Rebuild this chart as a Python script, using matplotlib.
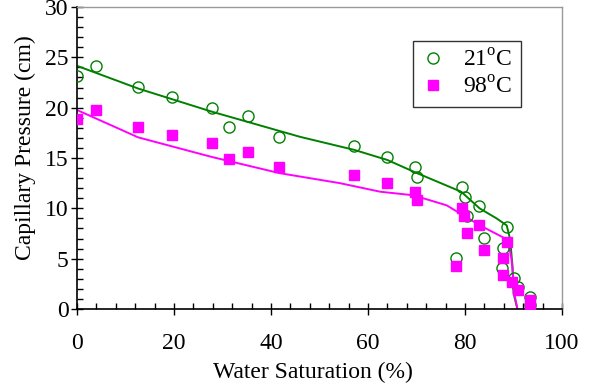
import matplotlib
matplotlib.use("Agg")
import matplotlib.pyplot as plt
from matplotlib.ticker import MultipleLocator

plt.rcParams['font.family'] = ['Liberation Serif', 'DejaVu Serif']
plt.rcParams['mathtext.fontset'] = 'custom'
plt.rcParams['mathtext.rm'] = 'Liberation Serif'

# 21 C measured
sw_21 = [0.0, 4.0, 12.6, 19.6, 27.8, 31.3, 35.2, 41.7, 57.2, 64.0, 69.6, 70.0, 79.3, 80.0, 80.5,
         82.8, 88.6, 84.0, 78.1, 87.9, 87.6, 90.0, 91.0, 93.3, 93.3]
pc_21 = [23.1, 24.1, 22.1, 21.1, 20.0, 18.1, 19.2, 17.05, 16.2, 15.1, 14.1, 13.1, 12.1, 11.1, 9.2,
         10.2, 8.1, 7.1, 5.1, 6.1, 4.1, 3.1, 2.2, 1.2, 0.4]
# 98 C measured
sw_98 = [0.0, 4.0, 12.6, 19.6, 27.8, 31.3, 35.2, 41.7, 57.2, 64.0, 69.6, 70.0, 79.3, 79.7,
         82.8, 80.4, 84.0, 78.1, 88.6, 87.9, 87.8, 89.6, 91.0, 93.3, 93.3]
pc_98 = [18.9, 19.8, 18.1, 17.3, 16.45, 14.9, 15.6, 14.1, 13.3, 12.5, 11.65, 10.8, 10.0, 9.2,
         8.3, 7.5, 5.9, 4.3, 6.7, 5.1, 3.4, 2.7, 1.9, 0.9, 0.1]
# model curves
sw_21_fit = [0.3, 12.6, 27.8, 46.0, 57.2, 64.0, 69.6, 79.2, 83.0, 86.5, 88.6, 89.3, 89.8, 90.0, 90.8]
pc_21_fit = [24.1, 21.9, 19.6, 17.1, 15.8, 14.8, 13.6, 11.65, 10.0, 9.0, 8.3, 6.9, 4.2, 1.55, 0.0]
sw_98_fit = [0.3, 12.6, 27.8, 41.7, 54.2, 62.5, 69.3, 76.2, 83.1, 87.9, 88.9, 89.6, 90.0, 90.3, 90.8]
pc_98_fit = [19.7, 17.05, 15.1, 13.5, 12.5, 11.65, 11.3, 10.3, 8.3, 7.1, 6.7, 4.9, 2.6, 1.2, 0.0]

green = '#008000'
magenta = '#FF00FF'

fig = plt.figure(figsize=(6.02, 3.89), dpi=100)
ax = fig.add_axes([0.128, 0.2057, 0.8056, 0.7763])

ax.plot(sw_21_fit, pc_21_fit, color=green, lw=1.4, zorder=2)
ax.plot(sw_98_fit, pc_98_fit, color=magenta, lw=1.4, zorder=2)
ax.plot(sw_21, pc_21, 'o', ms=8, mfc='none', mec=green, mew=1.0, ls='none',
        label=r'21$^{\rm o}$C', zorder=3)
ax.plot(sw_98, pc_98, 's', ms=7, mfc=magenta, mec=magenta, ls='none',
        label=r'98$^{\rm o}$C', zorder=3)

ax.set_xlim(0, 100)
ax.set_ylim(0, 30)
ax.xaxis.set_major_locator(MultipleLocator(20))
ax.xaxis.set_minor_locator(MultipleLocator(4))
ax.yaxis.set_major_locator(MultipleLocator(5))
ax.yaxis.set_minor_locator(MultipleLocator(1))
ax.tick_params(which='major', direction='inout', length=8, width=1, labelsize=17, pad=2)
ax.tick_params(which='minor', direction='in', length=4, width=1)
ax.tick_params(axis='x', pad=13)

for s in ['left', 'bottom']:
    ax.spines[s].set_color('black')
    ax.spines[s].set_linewidth(1.2)
for s in ['top', 'right']:
    ax.spines[s].set_color('#999999')
    ax.spines[s].set_linewidth(1.0)

ax.set_xlabel('Water Saturation (%)', fontsize=17)
ax.set_ylabel('Capillary Pressure (cm)', fontsize=17)
ax.xaxis.set_label_coords(0.487, -0.176)
ax.yaxis.set_label_coords(-0.085, 0.533)

leg = ax.legend(loc='upper right', bbox_to_anchor=(0.915, 0.887), borderaxespad=0,
                fontsize=17, frameon=True, fancybox=False, handlelength=1.0,
                handletextpad=0.8, borderpad=0.35, labelspacing=0.2)
leg.get_frame().set_edgecolor('black')
leg.get_frame().set_linewidth(1.0)

fig.savefig('out.png', dpi=100)
